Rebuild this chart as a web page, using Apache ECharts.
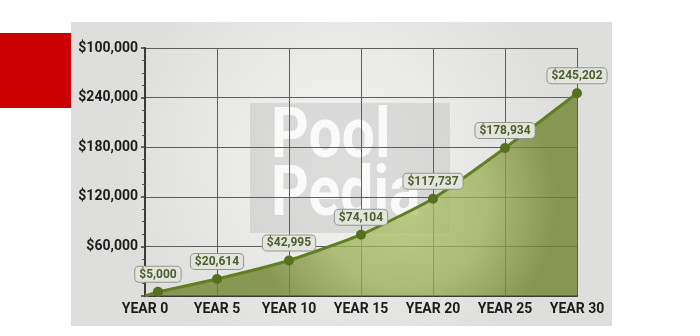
<!DOCTYPE html>
<html>
<head>
<meta charset="utf-8">
<script src="https://cdn.jsdelivr.net/npm/echarts@6/dist/echarts.min.js"></script>
<style>
html,body{margin:0;padding:0;background:#fff;}
#c{width:700px;height:336px;}
</style>
</head>
<body>
<div id="c"></div>
<script>
// ---- data ----
var pointYears = [0.9, 5, 10, 15, 20, 25, 30];
var pointValues = [5000, 20614, 42995, 74104, 117737, 178934, 245202];
var xTickLabels = ['YEAR 0', 'YEAR 5', 'YEAR 10', 'YEAR 15', 'YEAR 20', 'YEAR 25', 'YEAR 30'];
var yTickLabels = ['', '$60,000', '$120,000', '$180,000', '$240,000', '$100,000'];
var watermarkLines = ['Pool', 'Pedia'];

var FONT = 'Roboto, "Liberation Sans", sans-serif';

var seriesData = [{ value: [0, 0], symbol: 'none', label: { show: false } }];
for (var i = 0; i < pointYears.length; i++) {
  seriesData.push({ value: [pointYears[i], pointValues[i]] });
}

var chart = echarts.init(document.getElementById('c'), null, { renderer: 'canvas' });
chart.setOption({
  animation: false,
  backgroundColor: '#ffffff',
  graphic: [
    { type: 'rect', z: -20, shape: { x: 71, y: 22, width: 541, height: 304 },
      style: { fill: new echarts.graphic.RadialGradient(0.5, 0.45, 0.75, [
        { offset: 0, color: '#f5f5f4' }, { offset: 1, color: '#dededc' }]) } },
    { type: 'rect', z: -20, shape: { x: 0, y: 33, width: 71, height: 75 },
      style: { fill: '#cc0000' } },
    { type: 'rect', z: -19, shape: { x: 250, y: 103, width: 200, height: 130 },
      style: { fill: 'rgba(185,185,185,0.4)' } },
    { type: 'text', z: -18, x: 271, y: 104, scaleX: 0.84,
      style: { text: watermarkLines[0], font: 'bold 70px ' + FONT, fill: 'rgba(255,255,255,0.85)', verticalAlign: 'top' } },
    { type: 'text', z: -18, x: 271, y: 162, scaleX: 0.84,
      style: { text: watermarkLines[1], font: 'bold 70px ' + FONT, fill: 'rgba(255,255,255,0.85)', verticalAlign: 'top' } }
  ],
  grid: { left: 145, right: 123, top: 48, bottom: 40, containLabel: false },
  xAxis: {
    type: 'value', min: 0, max: 30, interval: 5,
    axisLine: { show: true, lineStyle: { color: '#3a3a3a', width: 2 } },
    axisTick: { show: false },
    axisLabel: {
      margin: 6, color: '#1c1c1c', fontFamily: FONT, fontWeight: 'bold', fontSize: 14,
      formatter: function (v) { return xTickLabels[Math.round(v / 5)]; }
    },
    splitLine: { show: true, lineStyle: { color: '#5e5e5e', width: 1 } }
  },
  yAxis: [{
    type: 'value', min: 0, max: 300000, interval: 60000,
    axisLine: { show: true, lineStyle: { color: '#3a3a3a', width: 2 } },
    axisTick: { show: true, length: 4, lineStyle: { color: '#3a3a3a', width: 1.5 } },
    minorTick: { show: true, splitNumber: 4, length: 3, lineStyle: { color: '#555', width: 1 } },
    axisLabel: {
      margin: 7, color: '#1c1c1c', fontFamily: FONT, fontWeight: 'bold', fontSize: 14,
      formatter: function (v) { return yTickLabels[Math.round(v / 60000)]; }
    },
    splitLine: { show: true, lineStyle: { color: '#5e5e5e', width: 1 } }
  }, {
    type: 'value', position: 'left', min: 0, max: 300000, interval: 60000,
    axisLine: { show: false },
    axisTick: { show: false },
    minorTick: { show: true, splitNumber: 4, length: 3, inside: true, lineStyle: { color: '#555', width: 1 } },
    axisLabel: { show: false },
    splitLine: { show: false }
  }],
  series: [{
    type: 'line',
    data: seriesData,
    smooth: 0.15,
    symbol: 'circle',
    symbolSize: 10,
    itemStyle: { color: '#55701f' },
    lineStyle: { color: '#5f7f22', width: 3 },
    areaStyle: {
      opacity: 1,
      color: new echarts.graphic.RadialGradient(0.6, 0.55, 0.75, [
        { offset: 0, color: 'rgba(178,198,106,0.75)' },
        { offset: 0.55, color: 'rgba(152,172,80,0.75)' },
        { offset: 1, color: 'rgba(110,130,44,0.78)' }])
    },
    label: {
      show: true, position: 'top', distance: 5,
      formatter: function (p) { return '$' + p.value[1].toLocaleString('en-US'); },
      color: '#4d5f2c', fontFamily: FONT, fontWeight: 'bold', fontSize: 12,
      backgroundColor: '#e3e4de', borderColor: '#93978a', borderWidth: 1, borderRadius: 4,
      padding: [2, 4, 1, 4]
    },
    z: 3
  }]
});
</script>
</body>
</html>
